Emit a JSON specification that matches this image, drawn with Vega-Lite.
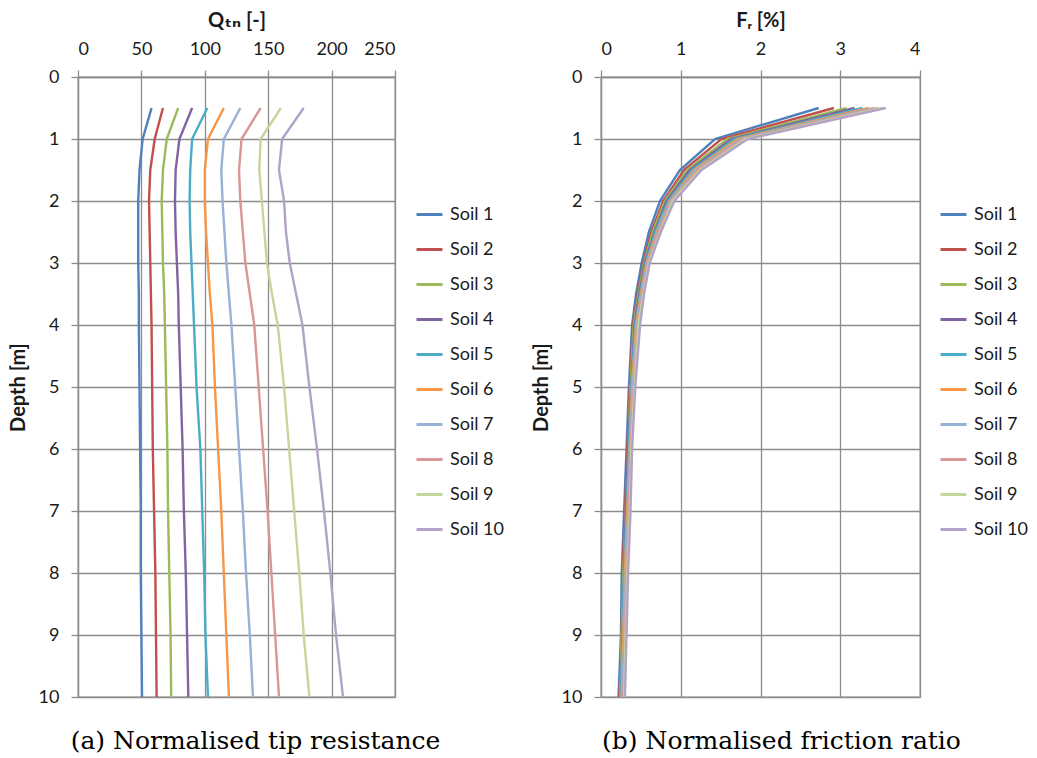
{
  "$schema": "https://vega.github.io/schema/vega-lite/v6.json",
  "background": "white",
  "padding": {"top": 9, "left": 7, "right": 0, "bottom": 0},
  "datasets": {
    "qtn": [
      {"depth": 0.5, "Soil 1": 58, "Soil 2": 67, "Soil 3": 79, "Soil 4": 90, "Soil 5": 102, "Soil 6": 115, "Soil 7": 128, "Soil 8": 144, "Soil 9": 160, "Soil 10": 178},
      {"depth": 1, "Soil 1": 51, "Soil 2": 60.5, "Soil 3": 70, "Soil 4": 80, "Soil 5": 90, "Soil 6": 102.5, "Soil 7": 115, "Soil 8": 129, "Soil 9": 144, "Soil 10": 161},
      {"depth": 1.5, "Soil 1": 48.5, "Soil 2": 57, "Soil 3": 67, "Soil 4": 77, "Soil 5": 88.5, "Soil 6": 100, "Soil 7": 113, "Soil 8": 127, "Soil 9": 143, "Soil 10": 158.5},
      {"depth": 2, "Soil 1": 47.5, "Soil 2": 56, "Soil 3": 66, "Soil 4": 76.5, "Soil 5": 88, "Soil 6": 100, "Soil 7": 114, "Soil 8": 128, "Soil 9": 145, "Soil 10": 162.5},
      {"depth": 2.5, "Soil 1": 47.5, "Soil 2": 56.5, "Soil 3": 66.5, "Soil 4": 77, "Soil 5": 88.5, "Soil 6": 101, "Soil 7": 115.5, "Soil 8": 130, "Soil 9": 147, "Soil 10": 164},
      {"depth": 3, "Soil 1": 47.5, "Soil 2": 57, "Soil 3": 67, "Soil 4": 78, "Soil 5": 89.5, "Soil 6": 102.5, "Soil 7": 117, "Soil 8": 132, "Soil 9": 149, "Soil 10": 167},
      {"depth": 3.5, "Soil 1": 48, "Soil 2": 57.5, "Soil 3": 68, "Soil 4": 79, "Soil 5": 90.5, "Soil 6": 104, "Soil 7": 119, "Soil 8": 135.5, "Soil 9": 153, "Soil 10": 172},
      {"depth": 4, "Soil 1": 48, "Soil 2": 58, "Soil 3": 68.5, "Soil 4": 79.5, "Soil 5": 91.5, "Soil 6": 106, "Soil 7": 121, "Soil 8": 139, "Soil 9": 157.5, "Soil 10": 177},
      {"depth": 5, "Soil 1": 48.5, "Soil 2": 58.5, "Soil 3": 69.5, "Soil 4": 81, "Soil 5": 93.5, "Soil 6": 108, "Soil 7": 124, "Soil 8": 142.5, "Soil 9": 162.5, "Soil 10": 182.5},
      {"depth": 6, "Soil 1": 49, "Soil 2": 59, "Soil 3": 70.5, "Soil 4": 82.5, "Soil 5": 96.5, "Soil 6": 110.5, "Soil 7": 127, "Soil 8": 146, "Soil 9": 166.5, "Soil 10": 188.5},
      {"depth": 7, "Soil 1": 49.5, "Soil 2": 60, "Soil 3": 71, "Soil 4": 83.5, "Soil 5": 98, "Soil 6": 113, "Soil 7": 130, "Soil 8": 149.5, "Soil 9": 170.5, "Soil 10": 194},
      {"depth": 8, "Soil 1": 49.5, "Soil 2": 61, "Soil 3": 72, "Soil 4": 85, "Soil 5": 99.5, "Soil 6": 115, "Soil 7": 132.5, "Soil 8": 152.5, "Soil 9": 174.5, "Soil 10": 199},
      {"depth": 9, "Soil 1": 50, "Soil 2": 61.5, "Soil 3": 73, "Soil 4": 86, "Soil 5": 100.5, "Soil 6": 117, "Soil 7": 135.5, "Soil 8": 155.5, "Soil 9": 178, "Soil 10": 203.5},
      {"depth": 10, "Soil 1": 50.5, "Soil 2": 62, "Soil 3": 73.5, "Soil 4": 87, "Soil 5": 102.5, "Soil 6": 119, "Soil 7": 138, "Soil 8": 158.5, "Soil 9": 182.5, "Soil 10": 209}
    ],
    "fr": [
      {"depth": 0.5, "Soil 1": 2.73, "Soil 2": 2.92, "Soil 3": 3.08, "Soil 4": 3.18, "Soil 5": 3.28, "Soil 6": 3.36, "Soil 7": 3.42, "Soil 8": 3.47, "Soil 9": 3.52, "Soil 10": 3.57},
      {"depth": 1, "Soil 1": 1.43, "Soil 2": 1.51, "Soil 3": 1.58, "Soil 4": 1.63, "Soil 5": 1.67, "Soil 6": 1.71, "Soil 7": 1.75, "Soil 8": 1.78, "Soil 9": 1.81, "Soil 10": 1.84},
      {"depth": 1.5, "Soil 1": 0.99, "Soil 2": 1.04, "Soil 3": 1.08, "Soil 4": 1.11, "Soil 5": 1.14, "Soil 6": 1.17, "Soil 7": 1.19, "Soil 8": 1.21, "Soil 9": 1.24, "Soil 10": 1.26},
      {"depth": 2, "Soil 1": 0.74, "Soil 2": 0.78, "Soil 3": 0.8, "Soil 4": 0.82, "Soil 5": 0.84, "Soil 6": 0.86, "Soil 7": 0.87, "Soil 8": 0.89, "Soil 9": 0.9, "Soil 10": 0.92},
      {"depth": 2.5, "Soil 1": 0.6, "Soil 2": 0.63, "Soil 3": 0.65, "Soil 4": 0.67, "Soil 5": 0.68, "Soil 6": 0.7, "Soil 7": 0.71, "Soil 8": 0.72, "Soil 9": 0.74, "Soil 10": 0.75},
      {"depth": 3, "Soil 1": 0.51, "Soil 2": 0.53, "Soil 3": 0.54, "Soil 4": 0.55, "Soil 5": 0.56, "Soil 6": 0.57, "Soil 7": 0.58, "Soil 8": 0.59, "Soil 9": 0.6, "Soil 10": 0.61},
      {"depth": 3.5, "Soil 1": 0.44, "Soil 2": 0.46, "Soil 3": 0.47, "Soil 4": 0.48, "Soil 5": 0.49, "Soil 6": 0.5, "Soil 7": 0.51, "Soil 8": 0.52, "Soil 9": 0.53, "Soil 10": 0.54},
      {"depth": 4, "Soil 1": 0.39, "Soil 2": 0.4, "Soil 3": 0.41, "Soil 4": 0.42, "Soil 5": 0.43, "Soil 6": 0.44, "Soil 7": 0.45, "Soil 8": 0.46, "Soil 9": 0.47, "Soil 10": 0.49},
      {"depth": 5, "Soil 1": 0.35, "Soil 2": 0.36, "Soil 3": 0.37, "Soil 4": 0.38, "Soil 5": 0.38, "Soil 6": 0.39, "Soil 7": 0.4, "Soil 8": 0.41, "Soil 9": 0.42, "Soil 10": 0.43},
      {"depth": 6, "Soil 1": 0.32, "Soil 2": 0.33, "Soil 3": 0.34, "Soil 4": 0.34, "Soil 5": 0.35, "Soil 6": 0.36, "Soil 7": 0.36, "Soil 8": 0.37, "Soil 9": 0.38, "Soil 10": 0.39},
      {"depth": 7, "Soil 1": 0.29, "Soil 2": 0.3, "Soil 3": 0.31, "Soil 4": 0.31, "Soil 5": 0.32, "Soil 6": 0.33, "Soil 7": 0.34, "Soil 8": 0.35, "Soil 9": 0.36, "Soil 10": 0.37},
      {"depth": 8, "Soil 1": 0.26, "Soil 2": 0.27, "Soil 3": 0.28, "Soil 4": 0.29, "Soil 5": 0.29, "Soil 6": 0.3, "Soil 7": 0.31, "Soil 8": 0.32, "Soil 9": 0.33, "Soil 10": 0.34},
      {"depth": 9, "Soil 1": 0.25, "Soil 2": 0.26, "Soil 3": 0.26, "Soil 4": 0.27, "Soil 5": 0.27, "Soil 6": 0.28, "Soil 7": 0.29, "Soil 8": 0.3, "Soil 9": 0.31, "Soil 10": 0.32},
      {"depth": 10, "Soil 1": 0.22, "Soil 2": 0.23, "Soil 3": 0.24, "Soil 4": 0.25, "Soil 5": 0.25, "Soil 6": 0.26, "Soil 7": 0.27, "Soil 8": 0.28, "Soil 9": 0.29, "Soil 10": 0.3}
    ]
  },
  "spacing": 25,
  "resolve": {"scale": {"color": "independent"}, "legend": {"color": "independent"}},
  "hconcat": [
    {
      "width": 317,
      "height": 620,
      "data": {"name": "qtn"},
      "transform": [
        {"fold": ["Soil 1", "Soil 2", "Soil 3", "Soil 4", "Soil 5", "Soil 6", "Soil 7", "Soil 8", "Soil 9", "Soil 10"], "as": ["soil", "value"]}
      ],
      "title": {"text": "(a) Normalised tip resistance", "orient": "bottom", "dx": 19},
      "mark": {"type": "line", "strokeWidth": 2.4, "clip": true},
      "encoding": {
        "x": {
          "field": "value", "type": "quantitative",
          "scale": {"domain": [0, 250], "nice": false, "zero": true},
          "axis": {"orient": "top", "values": [0, 50, 100, 150, 200, 250], "title": "Qₜₙ [-]"}
        },
        "y": {
          "field": "depth", "type": "quantitative",
          "scale": {"domain": [0, 10], "reverse": true, "nice": false},
          "axis": {"values": [0, 1, 2, 3, 4, 5, 6, 7, 8, 9, 10], "title": "Depth [m]"}
        },
        "color": {
          "field": "soil", "type": "nominal",
          "scale": {
            "domain": ["Soil 1", "Soil 2", "Soil 3", "Soil 4", "Soil 5", "Soil 6", "Soil 7", "Soil 8", "Soil 9", "Soil 10"],
            "range": ["#4F81BD", "#C0504D", "#9BBB59", "#8064A2", "#4BACC6", "#F79646", "#95B3D7", "#D99694", "#C3D69B", "#B3A2C7"]
          },
          "legend": {"orient": "none", "legendX": 337, "legendY": 123, "title": null}
        },
        "order": {"field": "depth", "type": "quantitative"}
      }
    },
    {
      "width": 319,
      "height": 620,
      "data": {"name": "fr"},
      "transform": [
        {"fold": ["Soil 1", "Soil 2", "Soil 3", "Soil 4", "Soil 5", "Soil 6", "Soil 7", "Soil 8", "Soil 9", "Soil 10"], "as": ["soil", "value"]}
      ],
      "title": {"text": "(b) Normalised friction ratio", "orient": "bottom", "dx": 21},
      "mark": {"type": "line", "strokeWidth": 2.4, "clip": true},
      "encoding": {
        "x": {
          "field": "value", "type": "quantitative",
          "scale": {"domain": [0, 4], "nice": false, "zero": true},
          "axis": {"orient": "top", "values": [0, 1, 2, 3, 4], "title": "Fᵣ [%]"}
        },
        "y": {
          "field": "depth", "type": "quantitative",
          "scale": {"domain": [0, 10], "reverse": true, "nice": false},
          "axis": {"values": [0, 1, 2, 3, 4, 5, 6, 7, 8, 9, 10], "title": "Depth [m]"}
        },
        "color": {
          "field": "soil", "type": "nominal",
          "scale": {
            "domain": ["Soil 1", "Soil 2", "Soil 3", "Soil 4", "Soil 5", "Soil 6", "Soil 7", "Soil 8", "Soil 9", "Soil 10"],
            "range": ["#4F81BD", "#C0504D", "#9BBB59", "#8064A2", "#4BACC6", "#F79646", "#95B3D7", "#D99694", "#C3D69B", "#B3A2C7"]
          },
          "legend": {"orient": "none", "legendX": 338, "legendY": 123, "title": null}
        },
        "order": {"field": "depth", "type": "quantitative"}
      }
    }
  ],
  "config": {
    "view": {"stroke": "#8c8c8c", "strokeWidth": 1.3},
    "axis": {
      "grid": true,
      "gridColor": "#8c8c8c",
      "gridWidth": 1.3,
      "gridOpacity": 1,
      "domainColor": "#8c8c8c",
      "domainWidth": 1.3,
      "tickColor": "#8c8c8c",
      "tickWidth": 1.3,
      "tickSize": 7,
      "labelFont": "Lato, DejaVu Sans",
      "labelFontSize": 18,
      "labelColor": "#1a1a1a",
      "labelPadding": 12,
      "titleFont": "Lato, DejaVu Sans",
      "titleFontSize": 20,
      "titleFontWeight": "bold",
      "titleColor": "#1a1a1a",
      "titlePadding": 10
    },
    "legend": {
      "symbolType": "stroke",
      "symbolSize": 676,
      "symbolStrokeWidth": 3,
      "labelFont": "Lato, DejaVu Sans",
      "labelFontSize": 18,
      "labelColor": "#1a1a1a",
      "labelOffset": 6,
      "rowPadding": 11,
      "labelLimit": 200
    },
    "title": {
      "font": "DejaVu Serif",
      "fontSize": 25,
      "fontWeight": "normal",
      "color": "#000000",
      "offset": 23,
      "anchor": "middle"
    }
  }
}
